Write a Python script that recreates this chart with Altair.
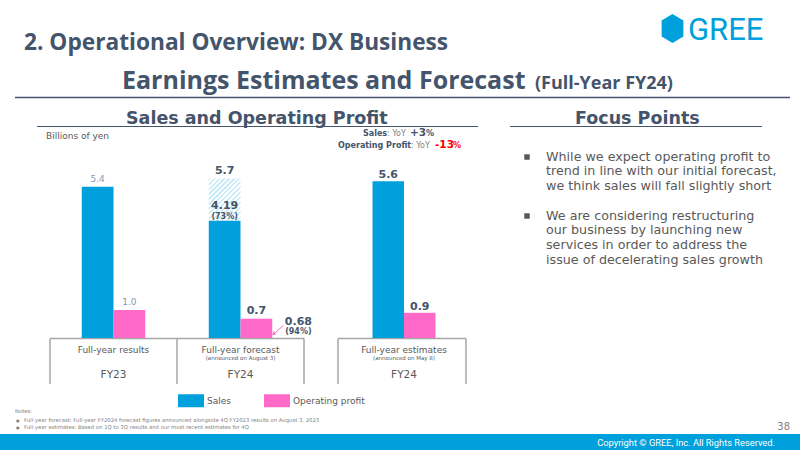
import altair as alt
import pandas as pd

# ---------------- data ----------------
periods = ["FY23", "FY24 forecast", "FY24 estimates"]
series = ["Sales", "Operating profit"]
sales = [5.4, 4.19, 5.6]          # FY24 forecast column: 1Q-3Q actual progress
op = [1.0, 0.68, 0.9]
sales_forecast = [None, 5.7, None]
op_forecast = [None, 0.72, None]
progress_pct = {"Sales": "(73%)", "Operating profit": "(94%)"}
cat_labels = ["Full-year results", "Full-year forecast", "Full-year estimates"]
cat_notes = ["", "(announced on August 3)", "(announced on May 8)"]
fy_labels = ["FY23", "FY24", "FY24"]

BLUE = "#00a0dc"
PINK = "#ff69c8"
SLATE = "#44546a"
GRAY = "#595959"
LIGHT = "#8497b0"
FONT = "DejaVu Sans"
HFONT = "Open Sans"

rows = []
for i, p in enumerate(periods):
    rows.append(dict(period=p, series="Sales", value=sales[i], target=sales_forecast[i],
                     pct=progress_pct["Sales"] if sales_forecast[i] else ""))
    rows.append(dict(period=p, series="Operating profit", value=op[i], target=op_forecast[i],
                     pct=progress_pct["Operating profit"] if op_forecast[i] else ""))
df = pd.DataFrame(rows)
cats = pd.DataFrame(dict(period=periods, cat=cat_labels, note=cat_notes, fy=fy_labels))

left_periods = periods[:2]
right_periods = periods[2:]

# scales (layout)
Y_BASE, K = 338, 28.0
yscale = alt.Scale(domain=[0, 6], range=[Y_BASE, Y_BASE - 6 * K])
xo = alt.XOffset("series:N", scale=alt.Scale(domain=series, paddingInner=0, paddingOuter=0))
color = alt.Color("series:N", scale=alt.Scale(domain=series, range=[BLUE, PINK]),
                  legend=alt.Legend(orient="none", legendX=178, legendY=387.5, direction="horizontal",
                                    title=None, symbolType="M-1,-0.5H1V0.5H-1Z", symbolSize=676,
                                    symbolStrokeWidth=0, symbolOpacity=1, labelFont=FONT,
                                    labelFontSize=9, labelColor=GRAY, labelOffset=3,
                                    columnPadding=33, padding=0))


def hatch(col, w, h, d=5.0, frac=0.45):
    kk = (w + h) / (w * w + h * h)
    n = max(1, round((w + h) / d))
    stops = []
    for i in range(n):
        a, b, c = i / n, (i + frac) / n, (i + 1) / n
        stops += [alt.GradientStop(offset=a, color=col), alt.GradientStop(offset=b, color=col),
                  alt.GradientStop(offset=b, color="#ffffff"), alt.GradientStop(offset=c, color="#ffffff")]
    return alt.LinearGradient(gradient="linear", stops=stops, x1=0, y1=0, x2=kk * w, y2=kk * h)


def group(plist, xrange):
    xs = alt.X("period:N", scale=alt.Scale(domain=plist, range=xrange, paddingInner=0.5, paddingOuter=0.25),
               axis=None)
    d = alt.Chart(df).transform_filter(alt.FieldOneOfPredicate(field="period", oneOf=plist))
    bw = (xrange[1] - xrange[0]) / len(plist) * 0.5 / 2
    layers = []
    if any(p == "FY24 forecast" for p in plist):
        hs = d.transform_filter("datum.target != null && datum.series == 'Sales'").mark_bar(
            fill=hatch("#c9eaf8", bw, (sales_forecast[1] - sales[1]) * K)).encode(
            x=xs, xOffset=xo, y=alt.Y("value:Q", scale=yscale, axis=None), y2="target:Q")
        ho = d.transform_filter("datum.target != null && datum.series == 'Operating profit'").mark_bar(
            fill="#ffd6ef").encode(
            x=xs, xOffset=xo, y=alt.Y("value:Q", scale=yscale, axis=None), y2="target:Q")
        layers += [hs, ho]
    bars = d.mark_bar().encode(x=xs, xOffset=xo, y=alt.Y("value:Q", scale=yscale, axis=None),
                               y2=alt.datum(0), color=color)
    layers.append(bars)
    # FY23 light labels
    layers.append(d.transform_filter("datum.period == 'FY23'").mark_text(
        font=FONT, fontSize=9, color=LIGHT, baseline="alphabetic", dy=-5).encode(
        x=xs, xOffset=xo, y=alt.Y("value:Q", scale=yscale), text=alt.Text("value:Q", format=".1f")))
    # FY24 estimates labels
    layers.append(d.transform_filter("datum.period == 'FY24 estimates'").mark_text(
        font=FONT, fontSize=11, fontWeight="bold", color=SLATE, baseline="alphabetic", dy=-3).encode(
        x=xs, xOffset=xo, y=alt.Y("value:Q", scale=yscale), text=alt.Text("value:Q", format=".1f")))
    # forecast labels
    fc = d.transform_filter("datum.target != null")
    layers.append(fc.mark_text(font=FONT, fontSize=11, fontWeight="bold", color=SLATE,
                               baseline="alphabetic", dy=-4).encode(
        x=xs, xOffset=xo, y=alt.Y("target:Q", scale=yscale), text=alt.Text("target:Q", format=".1f")))
    fs = fc.transform_filter("datum.series == 'Sales'")
    layers.append(fs.mark_text(font=FONT, fontSize=11, fontWeight="bold", color=SLATE,
                               baseline="alphabetic", dy=-12).encode(
        x=xs, xOffset=xo, y=alt.Y("value:Q", scale=yscale), text=alt.Text("value:Q", format=".2f")))
    layers.append(fs.mark_text(font=FONT, fontSize=8, fontWeight="bold", color=SLATE,
                               baseline="alphabetic", dy=-2).encode(
        x=xs, xOffset=xo, y=alt.Y("value:Q", scale=yscale), text="pct:N"))
    fo = fc.transform_filter("datum.series == 'Operating profit'")
    layers.append(fo.mark_text(font=FONT, fontSize=11, fontWeight="bold", color=SLATE,
                               baseline="alphabetic", dx=42, dy=6).encode(
        x=xs, xOffset=xo, y=alt.Y("value:Q", scale=yscale), text=alt.Text("value:Q", format=".2f")))
    layers.append(fo.mark_text(font=FONT, fontSize=8, fontWeight="bold", color=SLATE,
                               baseline="alphabetic", dx=42, dy=15.5).encode(
        x=xs, xOffset=xo, y=alt.Y("value:Q", scale=yscale), text="pct:N"))
    # category box labels
    c = alt.Chart(cats).transform_filter(alt.FieldOneOfPredicate(field="period", oneOf=plist))
    layers.append(c.mark_text(font=FONT, fontSize=9, color=GRAY, baseline="alphabetic").encode(
        x=xs, y=alt.value(352.5), text="cat:N"))
    layers.append(c.mark_text(font=FONT, fontSize=5.5, color=GRAY, baseline="alphabetic").encode(
        x=xs, y=alt.value(360), text="note:N"))
    layers.append(c.mark_text(font=FONT, fontSize=10.5, color=GRAY, baseline="alphabetic").encode(
        x=xs, y=alt.value(377.5), text="fy:N"))
    return alt.layer(*layers)


left = group(left_periods, [50, 304])
right = group(right_periods, [341, 467])

one = pd.DataFrame({"a": [0]})


def txt(s, x, y, size, col, weight="normal", align="left", font=FONT, lh=None):
    kw = dict(text=s, fontSize=size, color=col, fontWeight=weight, align=align, font=font,
              baseline="alphabetic")
    if lh:
        kw["lineHeight"] = lh
    return alt.Chart(one).mark_text(**kw).encode(x=alt.value(x), y=alt.value(y))


def rule(x1, y1, x2, y2, col, w):
    return alt.Chart(one).mark_rule(color=col, strokeWidth=w).encode(
        x=alt.value(x1), y=alt.value(y1), x2=alt.value(x2), y2=alt.value(y2))


ann = []
# header
ann.append(txt("2. Operational Overview: DX Business", 24, 50, 22.7, SLATE, "bold", font=HFONT))
ann.append(alt.Chart(one).mark_point(shape="M0,-1L0.75,-0.55L0.75,0.55L0,1L-0.75,0.55L-0.75,-0.55Z",
                                     filled=True, color=BLUE, opacity=1, size=841).encode(
    x=alt.value(672.5), y=alt.value(28.5)))
ann.append(txt("GREE", 688, 39.5, 31, BLUE, "normal", font="Roboto"))
ann.append(txt("Earnings Estimates and Forecast", 122, 89, 25, SLATE, "bold", font=HFONT))
ann.append(txt("(Full-Year FY24)", 535, 89, 18, SLATE, "bold", font=HFONT))
ann.append(rule(15, 97.5, 790, 97.5, SLATE, 1.5))
# section titles
ann.append(txt("Sales and Operating Profit", 126, 124, 17.5, SLATE, "bold"))
ann.append(rule(37, 126.5, 478, 126.5, SLATE, 1.2))
ann.append(txt("Focus Points", 575, 124, 17.5, SLATE, "bold"))
ann.append(rule(510, 126.5, 762, 126.5, SLATE, 1.2))
ann.append(txt("Billions of yen", 46, 139, 9, GRAY))
# YoY notes
ann.append(txt("Sales", 363, 135.5, 8, SLATE, "bold"))
ann.append(txt(": YoY", 387, 135.5, 8, "#7f7f7f"))
ann.append(txt("+3", 410, 135.5, 10.5, SLATE, "bold"))
ann.append(txt("%", 426, 135.5, 8, SLATE, "bold"))
ann.append(txt("Operating Profit", 338, 147.5, 8, SLATE, "bold"))
ann.append(txt(": YoY", 411, 147.5, 8, "#7f7f7f"))
ann.append(txt("-13", 435, 147.5, 10.5, "#ff0000", "bold"))
ann.append(txt("%", 453, 147.5, 8, "#ff0000", "bold"))
# arrow to 0.68
ann.append(rule(283.5, 325.5, 274, 333.5, PINK, 1))
ann.append(alt.Chart(one).mark_point(shape="triangle-up", filled=True, color=PINK, opacity=1, size=16,
                                     angle=230).encode(x=alt.value(273.5), y=alt.value(334)))
# category boxes
BOX = "#a6a6a6"
ann.append(rule(50, 338.5, 304, 338.5, BOX, 1.5))
ann.append(rule(338, 338.5, 466, 338.5, BOX, 1.5))
for xv in [50, 177, 304, 338, 466]:
    ann.append(rule(xv, 338.5, xv, 384, BOX, 1.5))
# focus points
b1 = ["While we expect operating profit to", "trend in line with our initial forecast,",
      "we think sales will fall slightly short"]
b2 = ["We are considering restructuring", "our business by launching new",
      "services in order to address the", "issue of decelerating sales growth"]
ann.append(alt.Chart(one).mark_point(shape="square", filled=True, color=GRAY, opacity=1, size=30).encode(
    x=alt.value(527), y=alt.value(157)))
ann.append(alt.Chart(one).mark_point(shape="square", filled=True, color=GRAY, opacity=1, size=30).encode(
    x=alt.value(527), y=alt.value(216)))
ann.append(txt(b1, 546, 160.5, 12.7, GRAY, lh=14.7))
ann.append(txt(b2, 546, 219.5, 12.7, GRAY, lh=14.7))
# notes & footer
ann.append(txt("Notes:", 15, 412.5, 5.3, "#7f7f7f"))
ann.append(txt(["\u25cf", "\u25cf"], 16, 422, 4, "#7f7f7f", lh=7.3))
ann.append(txt(["Full-year forecast: Full-year FY2024 forecast figures announced alongside 4Q FY2023 results on August 3, 2023",
                "Full-year estimates: Based on 1Q to 3Q results and our most recent estimates for 4Q"],
               24, 422, 5.3, "#7f7f7f", lh=7.3))
ann.append(txt("38", 790, 430, 10, "#7f7f7f", align="right"))
ann.append(alt.Chart(one).mark_rect(color=BLUE).encode(
    x=alt.value(0), x2=alt.value(800), y=alt.value(434), y2=alt.value(450)))
ann.append(txt("Copyright \u00a9 GREE, Inc. All Rights Reserved.", 775, 445.5, 9.3, "#ffffff",
               align="right", font="Roboto"))

chart = alt.layer(*ann, left, right).resolve_scale(x="independent", xOffset="independent").properties(
    width=800, height=450, autosize=alt.AutoSizeParams(type="none"), padding=0, background="#ffffff"
).configure_view(stroke=None)

chart.save("out.html", embed_options={"renderer": "svg", "actions": False})
